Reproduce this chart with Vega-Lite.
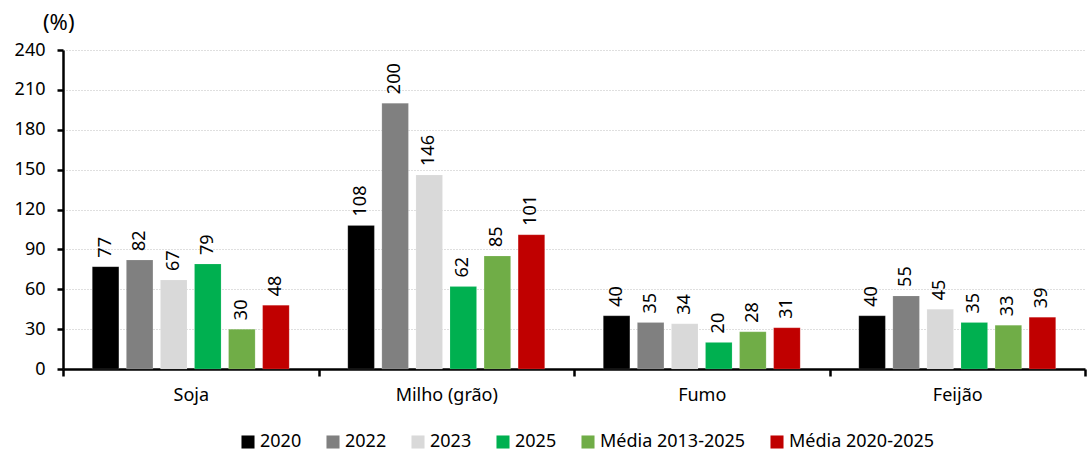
{
  "$schema": "https://vega.github.io/schema/vega-lite/v6.json",
  "width": 1022,
  "height": 319,
  "autosize": {"type": "none"},
  "padding": {"left": 63, "top": 50, "right": 2, "bottom": 83},
  "config": {
    "font": "Noto Sans",
    "view": {"stroke": null},
    "axis": {"labelFont": "Noto Sans", "titleFont": "Noto Sans"}
  },
  "title": {
    "text": "(%)",
    "anchor": "start",
    "frame": "group",
    "fontSize": 22,
    "fontWeight": "normal",
    "font": "Noto Sans",
    "color": "#000000",
    "dx": -20,
    "offset": 6
  },
  "data": {
    "values": [
      {"cultura": "Soja", "serie": "2020", "valor": 77},
      {"cultura": "Soja", "serie": "2022", "valor": 82},
      {"cultura": "Soja", "serie": "2023", "valor": 67},
      {"cultura": "Soja", "serie": "2025", "valor": 79},
      {"cultura": "Soja", "serie": "Média 2013-2025", "valor": 30},
      {"cultura": "Soja", "serie": "Média 2020-2025", "valor": 48},
      {"cultura": "Milho (grão)", "serie": "2020", "valor": 108},
      {"cultura": "Milho (grão)", "serie": "2022", "valor": 200},
      {"cultura": "Milho (grão)", "serie": "2023", "valor": 146},
      {"cultura": "Milho (grão)", "serie": "2025", "valor": 62},
      {"cultura": "Milho (grão)", "serie": "Média 2013-2025", "valor": 85},
      {"cultura": "Milho (grão)", "serie": "Média 2020-2025", "valor": 101},
      {"cultura": "Fumo", "serie": "2020", "valor": 40},
      {"cultura": "Fumo", "serie": "2022", "valor": 35},
      {"cultura": "Fumo", "serie": "2023", "valor": 34},
      {"cultura": "Fumo", "serie": "2025", "valor": 20},
      {"cultura": "Fumo", "serie": "Média 2013-2025", "valor": 28},
      {"cultura": "Fumo", "serie": "Média 2020-2025", "valor": 31},
      {"cultura": "Feijão", "serie": "2020", "valor": 40},
      {"cultura": "Feijão", "serie": "2022", "valor": 55},
      {"cultura": "Feijão", "serie": "2023", "valor": 45},
      {"cultura": "Feijão", "serie": "2025", "valor": 35},
      {"cultura": "Feijão", "serie": "Média 2013-2025", "valor": 33},
      {"cultura": "Feijão", "serie": "Média 2020-2025", "valor": 39}
    ]
  },
  "encoding": {
    "x": {
      "field": "cultura",
      "type": "nominal",
      "sort": ["Soja", "Milho (grão)", "Fumo", "Feijão"],
      "scale": {"paddingInner": 0, "paddingOuter": 0},
      "axis": {
        "title": null,
        "labelAngle": 0,
        "labelFontSize": 18,
        "labelColor": "#000000",
        "domainColor": "#000000",
        "domainWidth": 2.5,
        "tickColor": "#000000",
        "tickWidth": 2.5,
        "tickSize": 7,
        "tickBand": "extent",
        "labelPadding": 10,
        "grid": false
      }
    },
    "xOffset": {
      "field": "serie",
      "type": "nominal",
      "scale": {"paddingInner": 0.22, "paddingOuter": 0.86}
    },
    "y": {
      "field": "valor",
      "type": "quantitative",
      "scale": {"domain": [0, 240]},
      "axis": {
        "values": [0, 30, 60, 90, 120, 150, 180, 210, 240],
        "title": null,
        "labelFontSize": 18,
        "labelColor": "#000000",
        "labelPadding": 12,
        "domainColor": "#000000",
        "domainWidth": 2.5,
        "tickColor": "#000000",
        "tickWidth": 2.5,
        "tickSize": 6,
        "gridColor": "#bfbfbf",
        "gridDash": [1, 2],
        "gridWidth": 1
      }
    }
  },
  "layer": [
    {
      "mark": {"type": "bar", "stroke": "#ffffff", "strokeOpacity": 0.3, "strokeWidth": 0.5},
      "encoding": {
        "color": {
          "field": "serie",
          "type": "nominal",
          "scale": {
            "domain": ["2020", "2022", "2023", "2025", "Média 2013-2025", "Média 2020-2025"],
            "range": ["#000000", "#808080", "#d9d9d9", "#00b050", "#70ad47", "#c00000"]
          },
          "legend": {
            "title": null,
            "orient": "none",
            "direction": "horizontal",
            "legendX": 176,
            "legendY": 383,
            "symbolType": "square",
            "symbolSize": 170,
            "symbolStrokeWidth": 0,
            "labelFontSize": 18,
            "labelColor": "#000000",
            "labelOffset": 3,
            "columnPadding": 22
          }
        }
      }
    },
    {
      "mark": {"type": "text", "angle": 270, "align": "left", "baseline": "middle", "dx": 9, "fontSize": 18, "color": "#000000"},
      "encoding": {
        "text": {"field": "valor", "type": "quantitative"}
      }
    }
  ]
}
